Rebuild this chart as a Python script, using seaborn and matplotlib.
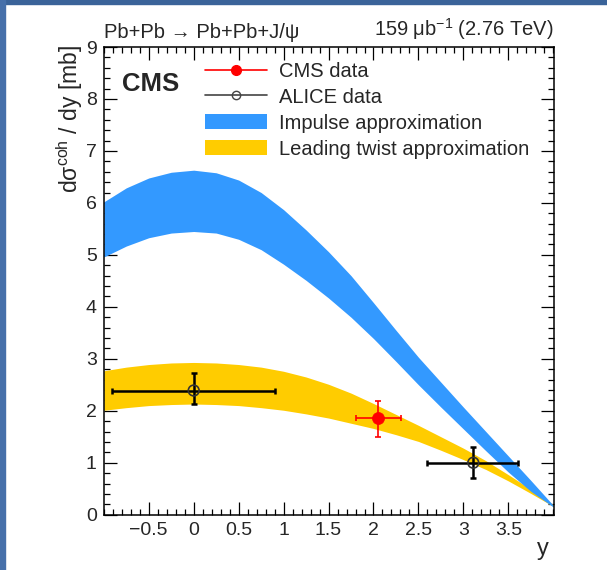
import pandas as pd
import seaborn as sns
import matplotlib.pyplot as plt
from matplotlib.lines import Line2D
from matplotlib.patches import Patch, Rectangle
from matplotlib.ticker import MultipleLocator

# model bands (rapidity y vs dsigma/dy in mb)
rapidity = [-1.0, -0.75, -0.5, -0.25, 0.0, 0.25, 0.5, 0.75, 1.0, 1.25, 1.5,
            1.75, 2.0, 2.25, 2.5, 2.75, 3.0, 3.25, 3.5, 3.75, 4.0]
impulse_high = [6.02, 6.29, 6.48, 6.59, 6.63, 6.58, 6.44, 6.20, 5.87, 5.48, 5.06,
                4.60, 4.08, 3.55, 3.03, 2.55, 2.07, 1.60, 1.13, 0.66, 0.18]
impulse_low = [4.96, 5.17, 5.33, 5.42, 5.45, 5.42, 5.30, 5.10, 4.82, 4.51, 4.17,
               3.80, 3.39, 2.95, 2.50, 2.07, 1.65, 1.23, 0.82, 0.45, 0.15]
twist_high = [2.77, 2.84, 2.89, 2.92, 2.93, 2.92, 2.89, 2.84, 2.76, 2.65, 2.51,
              2.34, 2.14, 1.93, 1.72, 1.50, 1.28, 1.04, 0.77, 0.49, 0.19]
twist_low = [2.01, 2.06, 2.10, 2.12, 2.13, 2.12, 2.10, 2.06, 2.01, 1.94, 1.86,
             1.76, 1.66, 1.54, 1.41, 1.24, 1.06, 0.87, 0.65, 0.41, 0.16]

# measurements
cms_y = [2.05]
cms_val = [1.855]
cms_val_lo = [1.50]
cms_val_hi = [2.19]
cms_y_lo = [1.80]
cms_y_hi = [2.31]

alice_y = [0.0, 3.11]
alice_val = [2.39, 1.00]
alice_val_lo = [2.14, 0.70]
alice_val_hi = [2.72, 1.30]
alice_y_lo = [-0.91, 2.60]
alice_y_hi = [0.90, 3.61]

sns.set_theme(style="ticks")
plt.rcParams['font.family'] = ['Liberation Sans', 'DejaVu Sans']
plt.rcParams['mathtext.fontset'] = 'custom'
plt.rcParams['mathtext.rm'] = 'Liberation Sans'
plt.rcParams['mathtext.it'] = 'Liberation Sans:italic'

fig = plt.figure(figsize=(6.07, 5.70), dpi=100)
ax = fig.add_axes([0.171, 0.097, 0.742, 0.8205])

blue = '#3399ff'
yellow = '#ffcc00'

ax.fill_between(rapidity, twist_low, twist_high, color=yellow, lw=0, zorder=1)
ax.fill_between(rapidity, impulse_low, impulse_high, color=blue, lw=0, zorder=2)

cms = pd.DataFrame({'y': cms_y, 'val': cms_val})
alice = pd.DataFrame({'y': alice_y, 'val': alice_val})

ax.errorbar(cms_y, cms_val,
            xerr=[[a - b for a, b in zip(cms_y, cms_y_lo)], [b - a for a, b in zip(cms_y, cms_y_hi)]],
            yerr=[[a - b for a, b in zip(cms_val, cms_val_lo)], [b - a for a, b in zip(cms_val, cms_val_hi)]],
            fmt='none', ecolor='red', elinewidth=1.2, capsize=2.5, capthick=1.2, zorder=4)
ax.errorbar(alice_y, alice_val,
            xerr=[[a - b for a, b in zip(alice_y, alice_y_lo)], [b - a for a, b in zip(alice_y, alice_y_hi)]],
            yerr=[[a - b for a, b in zip(alice_val, alice_val_lo)], [b - a for a, b in zip(alice_val, alice_val_hi)]],
            fmt='none', ecolor='black', elinewidth=1.8, capsize=2.5, capthick=1.8, zorder=4)

sns.scatterplot(data=cms, x='y', y='val', ax=ax, color='red', s=75,
                edgecolor='red', linewidth=0.5, zorder=5, legend=False)
sns.scatterplot(data=alice, x='y', y='val', ax=ax, facecolor='none', s=60,
                edgecolor='#333333', linewidth=1.2, zorder=5, legend=False)

ax.set_xlim(-1.0, 4.01)
ax.set_ylim(0, 9)
ax.set_xlabel('')
ax.set_ylabel('')

ax.xaxis.set_major_locator(MultipleLocator(0.5))
ax.xaxis.set_minor_locator(MultipleLocator(0.1))
ax.yaxis.set_major_locator(MultipleLocator(1))
ax.yaxis.set_minor_locator(MultipleLocator(0.2))
ax.tick_params(which='both', direction='in', top=True, right=True, color='black', width=0.9)
ax.tick_params(which='major', length=9.5, labelsize=14, pad=5)
ax.tick_params(which='minor', length=4.5)
ax.set_xticks([-0.5, 0, 0.5, 1, 1.5, 2, 2.5, 3, 3.5])
ax.set_xticklabels(['\u22120.5', '0', '0.5', '1', '1.5', '2', '2.5', '3', '3.5'])
for s in ax.spines.values():
    s.set_linewidth(1.1)
    s.set_color('black')

ax.text(0.04, 0.92, 'CMS', transform=ax.transAxes, fontsize=18.5, fontweight='bold',
        va='center', ha='left')
ax.text(0.0, 1.01, 'Pb+Pb \u2192 Pb+Pb+J/\u03c8', transform=ax.transAxes,
        fontsize=14.5, ha='left', va='bottom')
ax.text(1.0, 1.01, '159 \u03bcb$^{-1}$ (2.76 TeV)', transform=ax.transAxes,
        fontsize=14.5, ha='right', va='bottom')

fig.text(0.115, 0.921, 'd\u03c3$^{\\rm coh}$ / dy [mb]', rotation=90, fontsize=16.5,
         ha='center', va='top')
fig.text(0.905, 0.036, 'y', fontsize=17, ha='right', va='center')

handles = [
    Line2D([], [], color='red', lw=1.2, marker='o', markersize=7, markerfacecolor='red'),
    Line2D([], [], color='#444444', lw=1.2, marker='o', markersize=6,
           markerfacecolor='none', markeredgecolor='#444444'),
    Patch(facecolor=blue, edgecolor='none'),
    Patch(facecolor=yellow, edgecolor='none'),
]
labels = ['CMS data', 'ALICE data', 'Impulse approximation', 'Leading twist approximation']
ax.legend(handles, labels, loc='upper left', bbox_to_anchor=(0.224, 0.968), frameon=False,
          fontsize=14.5, handlelength=3.1, handleheight=0.8, handletextpad=0.6,
          labelspacing=0.34, borderpad=0, borderaxespad=0)

# slide-style border
fig.patches.append(Rectangle((0, 0.993), 1, 0.007, transform=fig.transFigure,
                             color='#3a6399', zorder=0))
fig.patches.append(Rectangle((0, 0), 0.009, 1, transform=fig.transFigure,
                             color='#4670aa', zorder=0))

fig.savefig('out.png', dpi=100)
